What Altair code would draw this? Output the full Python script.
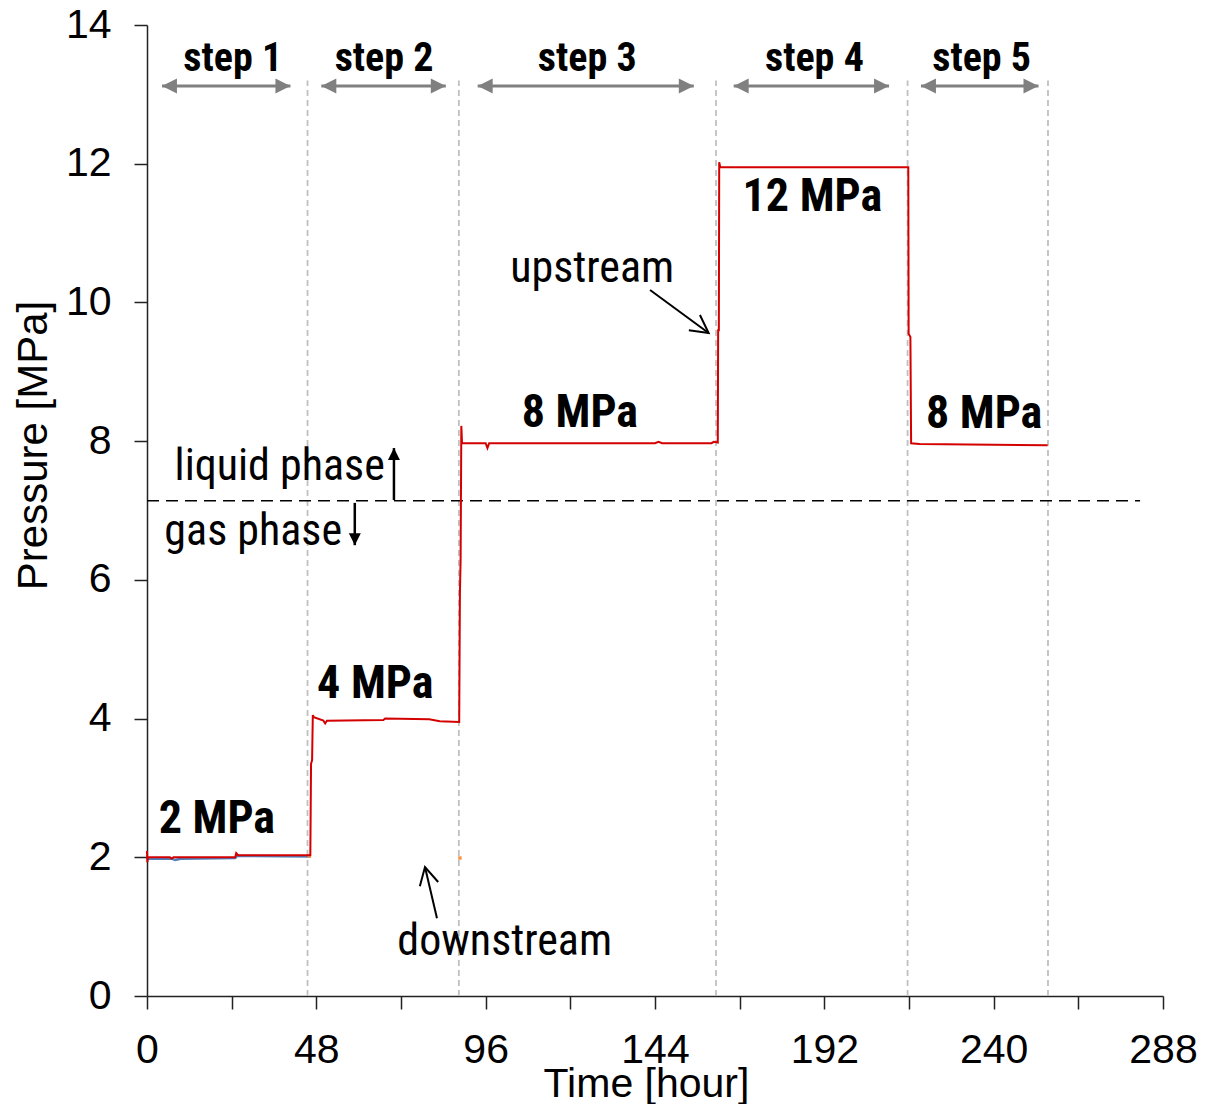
import altair as alt
import pandas as pd

# ---------------- data ----------------
# upstream pressure (red)
up_t = [0.0, 0.1, 0.3, 6.5, 7.0, 7.5, 25.0, 25.3, 25.8, 46.3, 46.5, 46.8, 47.0, 47.3, 50.0, 50.5, 51.0,
        67.0, 67.5, 80.0, 83.0, 88.5, 88.7, 88.9, 89.1, 89.3, 96.0, 96.5, 97.0, 144.0, 145.0, 146.0,
        160.0, 160.7, 161.8, 161.9, 162.1, 162.2, 162.5, 215.8, 215.9, 216.4, 216.6, 219.0, 255.3]
up_p = [2.09, 1.93, 2.00, 2.00, 1.98, 2.00, 2.00, 2.06, 2.03, 2.03, 3.35, 3.40, 4.05, 4.02, 3.97, 3.93, 3.97,
        3.98, 4.00, 3.99, 3.96, 3.95, 5.80, 6.30, 8.22, 7.97, 7.97, 7.90, 7.97, 7.97, 7.99, 7.97,
        7.97, 7.99, 7.98, 9.60, 9.60, 12.02, 11.95, 11.95, 9.55, 9.50, 7.97, 7.96, 7.94]
# downstream pressure (blue), only visible in step 1
down_t = [0.0, 7.0, 8.0, 9.5, 25.0, 25.5, 46.4]
down_p = [1.98, 1.98, 1.96, 1.98, 1.99, 2.02, 2.01]
# single orange readings
dot_t = [46.0, 88.7]
dot_p = [2.02, 1.99]

# step boundaries (gray dashed)
bounds = [45.5, 88.4, 161.3, 215.6, 255.4]
bound_top = 13.2

# step labels and double arrows
step_names = ["step 1", "step 2", "step 3", "step 4", "step 5"]
step_x = [24.3, 67.2, 124.8, 189.2, 236.6]
step_y = [13.33, 13.33, 13.33, 13.33, 13.33]
arr_x1 = [4.24, 49.41, 93.74, 166.31, 219.39]
arr_x2 = [40.66, 84.71, 155.01, 210.35, 252.71]
arr_y = [13.12, 13.12, 13.12, 13.12, 13.12]

# pressure level labels
lvl_names = ["2 MPa", "4 MPa", "8 MPa", "12 MPa", "8 MPa"]
lvl_x = [19.8, 64.7, 122.7, 188.6, 237.3]
lvl_y = [2.35, 4.30, 8.20, 11.32, 8.19]

# phase boundary
phase_p = 7.14
phase_x = [0.0, 281.5]

# annotations
ann_text = ["liquid phase", "gas phase", "upstream", "downstream"]
ann_x = [37.6, 30.1, 126.2, 101.4]
ann_y = [7.44, 6.50, 10.29, 0.59]

# phase arrows (black, filled heads)
liq_x = [70.0]
liq_y0 = [7.15]
liq_tip = [7.90]
gas_x = [58.9]
gas_y0 = [7.11]
gas_tip = [6.50]

# pointer arrows (black, open heads)
ptr_x0 = [142.6, 82.2]
ptr_y0 = [10.18, 1.12]
ptr_x1 = [159.2, 78.8]
ptr_y1 = [9.56, 1.86]
ptr_angle = [36.1, 256.8]

# ---------------- frames ----------------
up_df = pd.DataFrame({"t": up_t, "p": up_p, "i": range(len(up_t))})
down_df = pd.DataFrame({"t": down_t, "p": down_p, "i": range(len(down_t))})
dot_df = pd.DataFrame({"t": dot_t, "p": dot_p})
bound_df = pd.DataFrame({"t": bounds, "y0": [0] * len(bounds), "y1": [bound_top] * len(bounds)})
step_df = pd.DataFrame({"name": step_names, "x": step_x, "y": step_y})
arr_df = pd.DataFrame({"x1": arr_x1, "x2": arr_x2, "y": arr_y})
lvl_df = pd.DataFrame({"name": lvl_names, "x": lvl_x, "y": lvl_y})
phase_df = pd.DataFrame({"x": [phase_x[0]], "x2": [phase_x[1]], "y": [phase_p]})
ann_df = pd.DataFrame({"name": ann_text, "x": ann_x, "y": ann_y})
liq_df = pd.DataFrame({"x": liq_x, "y0": liq_y0, "tip": liq_tip})
gas_df = pd.DataFrame({"x": gas_x, "y0": gas_y0, "tip": gas_tip})
ptr_df = pd.DataFrame({"x0": ptr_x0, "y0": ptr_y0, "x1": ptr_x1, "y1": ptr_y1, "ang": ptr_angle})

NARROW = "Roboto Condensed"
REG = "Liberation Sans"

xs = alt.Scale(domain=[0, 288], nice=False, zero=False)
ys = alt.Scale(domain=[0, 14], nice=False)

x_axis = alt.Axis(
    values=list(range(0, 289, 24)),
    labelExpr="datum.value % 48 == 0 ? datum.label : ''",
    grid=False, tickSize=13, tickWidth=1.5, tickColor="#222222",
    domainColor="#222222", domainWidth=1.5,
    labelFont=REG, labelFontSize=41, labelColor="black", labelPadding=21,
    labelFlush=False, labelOverlap=False,
    title="Time [hour]", titleFont=REG, titleFontSize=41, titleFontWeight="normal",
    titleColor="black", titleX=499, titleY=100, titleBaseline="alphabetic", titleAlign="center",
)
y_axis = alt.Axis(
    values=list(range(0, 15, 2)), format="d",
    grid=False, tickSize=13, tickWidth=1.5, tickColor="#222222",
    domainColor="#222222", domainWidth=1.5,
    labelFont=REG, labelFontSize=41, labelColor="black", labelPadding=23,
    labelFlush=False, labelOverlap=False,
    title="Pressure [MPa]", titleFont=REG, titleFontSize=42, titleFontWeight="normal",
    titleColor="black", titleX=-101, titleY=420, titleBaseline="alphabetic", titleAlign="center",
    titleAngle=270,
)

base_x = alt.X("t:Q", scale=xs, axis=x_axis)
base_y = alt.Y("y0:Q", scale=ys, axis=y_axis)

bounds_layer = alt.Chart(bound_df).mark_rule(color="#c0c0c0", strokeWidth=1.8, strokeDash=[6, 4]).encode(
    x=base_x, y=base_y, y2="y1:Q")

phase_layer = alt.Chart(phase_df).mark_rule(color="black", strokeWidth=1.5, strokeDash=[12, 7]).encode(
    x=alt.X("x:Q", scale=xs), x2="x2:Q", y=alt.Y("y:Q", scale=ys))

down_layer = alt.Chart(down_df).mark_line(color="#4f81bd", strokeWidth=2.5).encode(
    x=alt.X("t:Q", scale=xs), y=alt.Y("p:Q", scale=ys), order="i:Q")

dot_layer = alt.Chart(dot_df).mark_square(color="#f79646", size=12, opacity=1).encode(
    x=alt.X("t:Q", scale=xs), y=alt.Y("p:Q", scale=ys))

up_layer = alt.Chart(up_df).mark_line(color="#d40000", strokeWidth=2).encode(
    x=alt.X("t:Q", scale=xs), y=alt.Y("p:Q", scale=ys), order="i:Q")

# gray double arrows
arr_shaft = alt.Chart(arr_df).mark_rule(color="#808080", strokeWidth=3).encode(
    x=alt.X("x1:Q", scale=xs), x2="x2:Q", y=alt.Y("y:Q", scale=ys))
arr_left = alt.Chart(arr_df).mark_point(
    shape="M 0 0 L 2 -1 L 2 1 Z", filled=True, color="#808080", size=225, opacity=1).encode(
    x=alt.X("x1:Q", scale=xs), y=alt.Y("y:Q", scale=ys))
arr_right = alt.Chart(arr_df).mark_point(
    shape="M 0 0 L -2 -1 L -2 1 Z", filled=True, color="#808080", size=225, opacity=1).encode(
    x=alt.X("x2:Q", scale=xs), y=alt.Y("y:Q", scale=ys))

step_text = alt.Chart(step_df).mark_text(
    font=NARROW, fontSize=40, fontWeight="bold", color="black", align="center", baseline="alphabetic").encode(
    x=alt.X("x:Q", scale=xs), y=alt.Y("y:Q", scale=ys), text="name:N")

lvl_text = alt.Chart(lvl_df).mark_text(
    font=NARROW, fontSize=46, fontWeight="bold", color="black", align="center", baseline="alphabetic").encode(
    x=alt.X("x:Q", scale=xs), y=alt.Y("y:Q", scale=ys), text="name:N")

ann_layer = alt.Chart(ann_df).mark_text(
    font=NARROW, fontSize=44, color="black", align="center", baseline="alphabetic").encode(
    x=alt.X("x:Q", scale=xs), y=alt.Y("y:Q", scale=ys), text="name:N")

# phase arrows
liq_shaft = alt.Chart(liq_df).mark_rule(color="black", strokeWidth=2.5).encode(
    x=alt.X("x:Q", scale=xs), y=alt.Y("y0:Q", scale=ys), y2="tip:Q")
liq_head = alt.Chart(liq_df).mark_point(
    shape="M 0 0 L -1 2 L 1 2 Z", filled=True, color="black", size=144, opacity=1).encode(
    x=alt.X("x:Q", scale=xs), y=alt.Y("tip:Q", scale=ys))
gas_shaft = alt.Chart(gas_df).mark_rule(color="black", strokeWidth=2.5).encode(
    x=alt.X("x:Q", scale=xs), y=alt.Y("y0:Q", scale=ys), y2="tip:Q")
gas_head = alt.Chart(gas_df).mark_point(
    shape="M 0 0 L -1 -2 L 1 -2 Z", filled=True, color="black", size=144, opacity=1).encode(
    x=alt.X("x:Q", scale=xs), y=alt.Y("tip:Q", scale=ys))

# pointer arrows
ptr_shaft = alt.Chart(ptr_df).mark_rule(color="black", strokeWidth=2).encode(
    x=alt.X("x0:Q", scale=xs), y=alt.Y("y0:Q", scale=ys), x2="x1:Q", y2="y1:Q")
ptr_head = alt.Chart(ptr_df).mark_point(
    shape="M -0.88 -0.47 L 0 0 L -0.88 0.47", filled=False, color="black", strokeWidth=2,
    size=1600, opacity=1).encode(
    x=alt.X("x1:Q", scale=xs), y=alt.Y("y1:Q", scale=ys), angle=alt.Angle("ang:Q", scale=None))

chart = alt.layer(
    bounds_layer, phase_layer, down_layer, dot_layer, up_layer,
    arr_shaft, arr_left, arr_right, step_text, lvl_text, ann_layer,
    liq_shaft, liq_head, gas_shaft, gas_head, ptr_shaft, ptr_head,
).properties(
    width=1016, height=971,
    padding={"left": 139, "top": 17, "right": 34, "bottom": 108},
    autosize=alt.AutoSizeParams(type="none"),
    background="white",
).configure_view(stroke=None)

chart.save("out.html", embed_options={"renderer": "svg", "actions": False})
